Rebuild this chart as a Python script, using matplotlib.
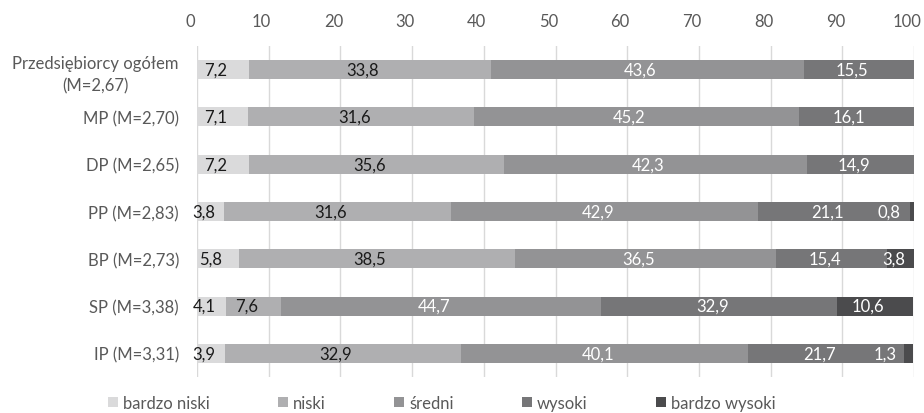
import matplotlib
matplotlib.use("Agg")
import matplotlib.pyplot as plt
import matplotlib.transforms as mtransforms
from matplotlib.patches import Patch
import numpy as np

plt.rcParams['font.family'] = ['Lato', 'DejaVu Sans']

categories = [
    "Przedsiębiorcy ogółem\n(M=2,67)",
    "MP (M=2,70)",
    "DP (M=2,65)",
    "PP (M=2,83)",
    "BP (M=2,73)",
    "SP (M=3,38)",
    "IP (M=3,31)",
]
series_names = ["bardzo niski", "niski", "średni", "wysoki", "bardzo wysoki"]
bardzo_niski = [7.2, 7.1, 7.2, 3.8, 5.8, 4.1, 3.9]
niski = [33.8, 31.6, 35.6, 31.6, 38.5, 7.6, 32.9]
sredni = [43.6, 45.2, 42.3, 42.9, 36.5, 44.7, 40.1]
wysoki = [15.5, 16.1, 14.9, 21.1, 15.4, 32.9, 21.7]
bardzo_wysoki = [0.0, 0.0, 0.0, 0.8, 3.8, 10.6, 1.3]
x_ticks = [0, 10, 20, 30, 40, 50, 60, 70, 80, 90, 100]

series = [bardzo_niski, niski, sredni, wysoki, bardzo_wysoki]
colors = ["#dadadb", "#afafb1", "#939395", "#767678", "#4b4b4d"]
label_colors = ["#1a1a1a", "#1a1a1a", "white", "white", "white"]
FS = 12

fig = plt.figure(figsize=(9.24, 4.14), dpi=100)
ax = fig.add_axes([197 / 924, 1 - 378 / 414, 717 / 924, 331 / 414])

# text in this chart sits slightly left of the marks it describes
shift = mtransforms.ScaledTranslation(-7 / 100, 0, fig.dpi_scale_trans)

y = np.arange(len(categories))
left = np.zeros(len(categories))
for vals, col, lcol in zip(series, colors, label_colors):
    vals = np.array(vals)
    ax.barh(y, vals, left=left, height=0.4, color=col, zorder=2)
    for i, v in enumerate(vals):
        if v <= 0:
            continue
        cx = left[i] + v / 2
        if v < 2:
            cx -= 2.3
        ax.text(cx, y[i], f"{v:.1f}".replace(".", ","), ha="center",
                va="center", fontsize=FS, color=lcol, zorder=3,
                transform=ax.transData + shift)
    left += vals

ax.set_xlim(0, 100)
ax.set_ylim(len(categories) - 0.5, -0.5)
ax.set_xticks(x_ticks)
ax.set_xticklabels([str(t) for t in x_ticks])
ax.xaxis.tick_top()
ax.set_yticks(y)
ax.set_yticklabels(categories, multialignment="center", linespacing=1.45)
ax.tick_params(axis="x", length=0, pad=12, labelsize=FS, labelcolor="#595959")
ax.tick_params(axis="y", length=0, pad=13, labelsize=FS, labelcolor="#595959")
for lbl in ax.get_xticklabels():
    lbl.set_transform(lbl.get_transform() + shift)

ax.grid(axis="x", color="#d9d9d9", linewidth=1, zorder=0)
for s in ax.spines.values():
    s.set_visible(False)

handles = [Patch(facecolor=c, edgecolor="none") for c in colors]
fig.legend(handles, series_names, loc="center", bbox_to_anchor=(0.478, 0.024),
           ncol=5, frameon=False, fontsize=FS, handlelength=0.6,
           handleheight=0.6, handletextpad=0.3, columnspacing=4.1,
           labelcolor="#595959")

fig.savefig("out.png", dpi=100)
